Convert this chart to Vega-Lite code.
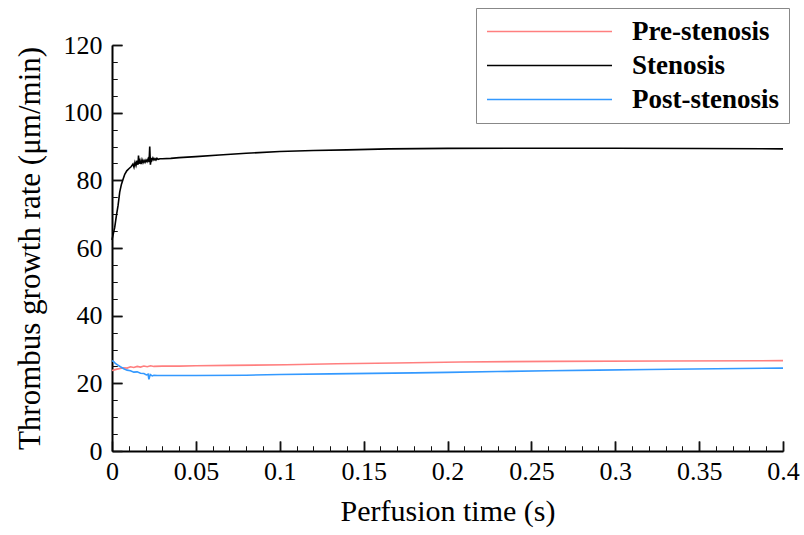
{
  "$schema": "https://vega.github.io/schema/vega-lite/v6.json",
  "width": 671,
  "height": 406,
  "autosize": {"type": "none"},
  "padding": {"left": 112, "top": 45, "right": 21, "bottom": 84},
  "background": "white",
  "config": {
    "view": {"stroke": null},
    "font": "Liberation Serif",
    "axis": {"labelColor": "black", "titleColor": "black", "domainColor": "black", "grid": false, "labelFont": "Liberation Serif", "titleFont": "Liberation Serif", "titleFontWeight": "normal"}
  },
  "datasets": {
    "d": [
      {"s": "Stenosis", "t": 0, "v": 62.4},
      {"s": "Stenosis", "t": 0.0006, "v": 63.8},
      {"s": "Stenosis", "t": 0.0016, "v": 66.0},
      {"s": "Stenosis", "t": 0.0026, "v": 69.5},
      {"s": "Stenosis", "t": 0.0036, "v": 72.5},
      {"s": "Stenosis", "t": 0.0046, "v": 76.5},
      {"s": "Stenosis", "t": 0.0056, "v": 78.8},
      {"s": "Stenosis", "t": 0.0066, "v": 80.3},
      {"s": "Stenosis", "t": 0.0076, "v": 81.8},
      {"s": "Stenosis", "t": 0.0088, "v": 82.8},
      {"s": "Stenosis", "t": 0.0102, "v": 83.5},
      {"s": "Stenosis", "t": 0.0115, "v": 84.1},
      {"s": "Stenosis", "t": 0.0125, "v": 84.8},
      {"s": "Stenosis", "t": 0.0131, "v": 83.9},
      {"s": "Stenosis", "t": 0.0137, "v": 85.3},
      {"s": "Stenosis", "t": 0.0143, "v": 84.4},
      {"s": "Stenosis", "t": 0.0149, "v": 85.8},
      {"s": "Stenosis", "t": 0.0155, "v": 84.6},
      {"s": "Stenosis", "t": 0.0158, "v": 87.3},
      {"s": "Stenosis", "t": 0.0161, "v": 84.9},
      {"s": "Stenosis", "t": 0.0167, "v": 85.9},
      {"s": "Stenosis", "t": 0.0173, "v": 84.8},
      {"s": "Stenosis", "t": 0.0179, "v": 86.1},
      {"s": "Stenosis", "t": 0.0185, "v": 85.2},
      {"s": "Stenosis", "t": 0.0191, "v": 85.9},
      {"s": "Stenosis", "t": 0.0197, "v": 85.3},
      {"s": "Stenosis", "t": 0.0203, "v": 86.0},
      {"s": "Stenosis", "t": 0.0209, "v": 85.5},
      {"s": "Stenosis", "t": 0.0215, "v": 86.3},
      {"s": "Stenosis", "t": 0.0221, "v": 85.4},
      {"s": "Stenosis", "t": 0.0225, "v": 90.0},
      {"s": "Stenosis", "t": 0.0229, "v": 84.6},
      {"s": "Stenosis", "t": 0.0233, "v": 86.6},
      {"s": "Stenosis", "t": 0.0238, "v": 85.9},
      {"s": "Stenosis", "t": 0.0244, "v": 86.6},
      {"s": "Stenosis", "t": 0.025, "v": 86.0},
      {"s": "Stenosis", "t": 0.0256, "v": 86.4},
      {"s": "Stenosis", "t": 0.0262, "v": 86.0},
      {"s": "Stenosis", "t": 0.0268, "v": 86.5},
      {"s": "Stenosis", "t": 0.0275, "v": 86.2},
      {"s": "Stenosis", "t": 0.0286, "v": 86.4},
      {"s": "Stenosis", "t": 0.03, "v": 86.4},
      {"s": "Stenosis", "t": 0.035, "v": 86.5},
      {"s": "Stenosis", "t": 0.04, "v": 86.7},
      {"s": "Stenosis", "t": 0.05, "v": 87.0},
      {"s": "Stenosis", "t": 0.064, "v": 87.5},
      {"s": "Stenosis", "t": 0.08, "v": 88.0},
      {"s": "Stenosis", "t": 0.1, "v": 88.5},
      {"s": "Stenosis", "t": 0.12, "v": 88.8},
      {"s": "Stenosis", "t": 0.14, "v": 89.0},
      {"s": "Stenosis", "t": 0.165, "v": 89.3},
      {"s": "Stenosis", "t": 0.2, "v": 89.45},
      {"s": "Stenosis", "t": 0.25, "v": 89.5},
      {"s": "Stenosis", "t": 0.3, "v": 89.5},
      {"s": "Stenosis", "t": 0.35, "v": 89.4},
      {"s": "Stenosis", "t": 0.4, "v": 89.3},
      {"s": "Pre-stenosis", "t": 0, "v": 23.8},
      {"s": "Pre-stenosis", "t": 0.001, "v": 23.9},
      {"s": "Pre-stenosis", "t": 0.003, "v": 24.2},
      {"s": "Pre-stenosis", "t": 0.005, "v": 24.4},
      {"s": "Pre-stenosis", "t": 0.007, "v": 24.6},
      {"s": "Pre-stenosis", "t": 0.009, "v": 24.5},
      {"s": "Pre-stenosis", "t": 0.011, "v": 24.9},
      {"s": "Pre-stenosis", "t": 0.013, "v": 24.7},
      {"s": "Pre-stenosis", "t": 0.015, "v": 25.0},
      {"s": "Pre-stenosis", "t": 0.017, "v": 24.8},
      {"s": "Pre-stenosis", "t": 0.019, "v": 25.1},
      {"s": "Pre-stenosis", "t": 0.021, "v": 24.9},
      {"s": "Pre-stenosis", "t": 0.023, "v": 25.2},
      {"s": "Pre-stenosis", "t": 0.025, "v": 25.0},
      {"s": "Pre-stenosis", "t": 0.03, "v": 25.1},
      {"s": "Pre-stenosis", "t": 0.04, "v": 25.1},
      {"s": "Pre-stenosis", "t": 0.05, "v": 25.2},
      {"s": "Pre-stenosis", "t": 0.07, "v": 25.3},
      {"s": "Pre-stenosis", "t": 0.104, "v": 25.5},
      {"s": "Pre-stenosis", "t": 0.134, "v": 25.8},
      {"s": "Pre-stenosis", "t": 0.169, "v": 26.0},
      {"s": "Pre-stenosis", "t": 0.208, "v": 26.3},
      {"s": "Pre-stenosis", "t": 0.263, "v": 26.5},
      {"s": "Pre-stenosis", "t": 0.33, "v": 26.6},
      {"s": "Pre-stenosis", "t": 0.4, "v": 26.7},
      {"s": "Post-stenosis", "t": 0, "v": 26.7},
      {"s": "Post-stenosis", "t": 0.001, "v": 26.4},
      {"s": "Post-stenosis", "t": 0.002, "v": 25.9},
      {"s": "Post-stenosis", "t": 0.0035, "v": 25.4},
      {"s": "Post-stenosis", "t": 0.005, "v": 24.9},
      {"s": "Post-stenosis", "t": 0.007, "v": 24.3},
      {"s": "Post-stenosis", "t": 0.009, "v": 23.9},
      {"s": "Post-stenosis", "t": 0.011, "v": 23.7},
      {"s": "Post-stenosis", "t": 0.013, "v": 23.3},
      {"s": "Post-stenosis", "t": 0.015, "v": 23.4},
      {"s": "Post-stenosis", "t": 0.017, "v": 23.0},
      {"s": "Post-stenosis", "t": 0.019, "v": 22.9},
      {"s": "Post-stenosis", "t": 0.0205, "v": 22.5},
      {"s": "Post-stenosis", "t": 0.0215, "v": 22.7},
      {"s": "Post-stenosis", "t": 0.022, "v": 21.2},
      {"s": "Post-stenosis", "t": 0.0228, "v": 22.6},
      {"s": "Post-stenosis", "t": 0.024, "v": 22.2},
      {"s": "Post-stenosis", "t": 0.025, "v": 22.4},
      {"s": "Post-stenosis", "t": 0.027, "v": 22.3},
      {"s": "Post-stenosis", "t": 0.03, "v": 22.3},
      {"s": "Post-stenosis", "t": 0.05, "v": 22.3},
      {"s": "Post-stenosis", "t": 0.08, "v": 22.4},
      {"s": "Post-stenosis", "t": 0.1, "v": 22.6},
      {"s": "Post-stenosis", "t": 0.13, "v": 22.8},
      {"s": "Post-stenosis", "t": 0.155, "v": 22.95},
      {"s": "Post-stenosis", "t": 0.18, "v": 23.1},
      {"s": "Post-stenosis", "t": 0.2, "v": 23.25},
      {"s": "Post-stenosis", "t": 0.23, "v": 23.5},
      {"s": "Post-stenosis", "t": 0.26, "v": 23.7},
      {"s": "Post-stenosis", "t": 0.29, "v": 23.9},
      {"s": "Post-stenosis", "t": 0.32, "v": 24.1},
      {"s": "Post-stenosis", "t": 0.36, "v": 24.3},
      {"s": "Post-stenosis", "t": 0.4, "v": 24.5}
    ]
  },
  "data": {"name": "d"},
  "layer": [
    {
      "mark": {"type": "line", "strokeWidth": 1.6},
      "encoding": {
        "x": {
          "field": "t", "type": "quantitative",
          "scale": {"domain": [0, 0.4], "nice": false, "zero": false},
          "axis": {
            "orient": "bottom",
            "values": [0, 0.05, 0.1, 0.15, 0.2, 0.25, 0.3, 0.35, 0.4],
            "format": "~g",
            "ticks": true, "tickSize": -10, "tickColor": "#111111", "tickWidth": 1.5, "domainWidth": 2,
            "labelPadding": 17, "labelFontSize": 26, "labelFlush": false, "labelOverlap": false,
            "title": "Perfusion time (s)", "titleFontSize": 30, "titlePadding": 12
          }
        },
        "y": {
          "field": "v", "type": "quantitative",
          "scale": {"domain": [0, 120], "nice": false, "zero": false},
          "axis": {
            "orient": "left",
            "values": [0, 20, 40, 60, 80, 100, 120],
            "format": "d",
            "ticks": true, "tickSize": -10, "tickColor": "#111111", "tickWidth": 1.5, "domainWidth": 2,
            "labelPadding": 20, "labelFontSize": 26, "labelFlush": false, "labelOverlap": false,
            "title": "Thrombus growth rate (μm/min)", "titleFontSize": 31, "titlePadding": 17
          }
        },
        "color": {
          "field": "s", "type": "nominal",
          "scale": {"domain": ["Pre-stenosis", "Stenosis", "Post-stenosis"], "range": ["#ff7f7f", "#000000", "#3399ff"]},
          "legend": {
            "orient": "none", "legendX": 364, "legendY": -37,
            "title": null, "padding": 10,
            "strokeColor": "#888888", "fillColor": "white",
            "symbolType": "M-5,0H5", "symbolSize": 625, "symbolStrokeWidth": 1.6, "symbolOffset": 50,
            "labelFont": "Liberation Serif", "labelFontWeight": "bold", "labelFontSize": 27, "labelColor": "black",
            "labelOffset": 69, "rowPadding": 6, "labelLimit": 400
          }
        }
      }
    },
    {
      "mark": {"type": "line", "opacity": 0},
      "encoding": {
        "x": {
          "field": "t", "type": "quantitative",
          "axis": {
            "orient": "bottom",
            "values": [0.01, 0.02, 0.03, 0.04, 0.06, 0.07, 0.08, 0.09, 0.11, 0.12, 0.13, 0.14, 0.16, 0.17, 0.18, 0.19, 0.21, 0.22, 0.23, 0.24, 0.26, 0.27, 0.28, 0.29, 0.31, 0.32, 0.33, 0.34, 0.36, 0.37, 0.38, 0.39],
            "ticks": true, "tickColor": "#111111", "tickSize": -5, "tickWidth": 1,
            "labels": false, "domain": false, "title": null
          }
        },
        "y": {
          "field": "v", "type": "quantitative",
          "axis": {
            "orient": "left",
            "values": [5, 10, 15, 25, 30, 35, 45, 50, 55, 65, 70, 75, 85, 90, 95, 105, 110, 115],
            "ticks": true, "tickColor": "#111111", "tickSize": -5, "tickWidth": 1,
            "labels": false, "domain": false, "title": null
          }
        },
        "detail": {"field": "s", "type": "nominal"}
      }
    },
    {
      "mark": {"type": "line", "opacity": 0},
      "encoding": {
        "x": {
          "field": "t", "type": "quantitative",
          "axis": {
            "orient": "top", "offset": -406,
            "values": [0.05, 0.1, 0.15, 0.2, 0.25, 0.3, 0.35, 0.4],
            "ticks": true, "tickColor": "#111111", "tickSize": 10, "tickWidth": 1.5,
            "labels": false, "domain": false, "title": null
          }
        },
        "y": {
          "field": "v", "type": "quantitative",
          "axis": {
            "orient": "right", "offset": -671,
            "values": [20, 40, 60, 80, 100, 120],
            "ticks": true, "tickColor": "#111111", "tickSize": 10, "tickWidth": 1.5,
            "labels": false, "domain": false, "title": null
          }
        },
        "detail": {"field": "s", "type": "nominal"}
      }
    },
    {
      "mark": {"type": "line", "opacity": 0},
      "encoding": {
        "x": {
          "field": "t", "type": "quantitative",
          "axis": {
            "orient": "top", "offset": -406,
            "values": [0.01, 0.02, 0.03, 0.04, 0.06, 0.07, 0.08, 0.09, 0.11, 0.12, 0.13, 0.14, 0.16, 0.17, 0.18, 0.19, 0.21, 0.22, 0.23, 0.24, 0.26, 0.27, 0.28, 0.29, 0.31, 0.32, 0.33, 0.34, 0.36, 0.37, 0.38, 0.39],
            "ticks": true, "tickColor": "#111111", "tickSize": 5, "tickWidth": 1,
            "labels": false, "domain": false, "title": null
          }
        },
        "y": {
          "field": "v", "type": "quantitative",
          "axis": {
            "orient": "right", "offset": -671,
            "values": [5, 10, 15, 25, 30, 35, 45, 50, 55, 65, 70, 75, 85, 90, 95, 105, 110, 115],
            "ticks": true, "tickColor": "#111111", "tickSize": 5, "tickWidth": 1,
            "labels": false, "domain": false, "title": null
          }
        },
        "detail": {"field": "s", "type": "nominal"}
      }
    }
  ],
  "resolve": {"axis": {"x": "independent", "y": "independent"}}
}
